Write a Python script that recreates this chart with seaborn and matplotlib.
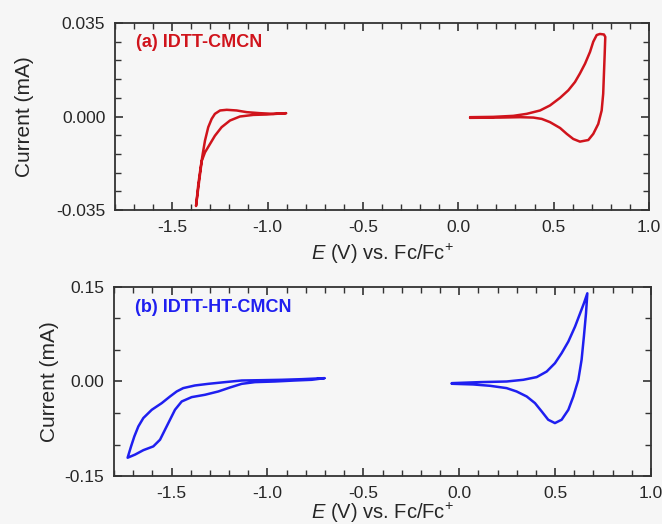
import matplotlib
matplotlib.use("Agg")
import matplotlib.pyplot as plt
from matplotlib.ticker import MultipleLocator, FixedLocator
import seaborn as sns
import pandas as pd

# (a) IDTT-CMCN, reduction loop
a_red_v = [-0.903, -0.970, -1.040, -1.109, -1.162, -1.214, -1.249, -1.276, -1.293, -1.311,
           -1.328, -1.340, -1.351, -1.363, -1.375, -1.363, -1.345, -1.328, -1.302, -1.276,
           -1.241, -1.197, -1.145, -1.075, -1.005, -0.903]
a_red_i = [0.00125, 0.00100, 0.00125, 0.00163, 0.00226, 0.00251, 0.00226, 0.00100, -0.00088, -0.0040,
           -0.0090, -0.0140, -0.0191, -0.0253, -0.0335, -0.0266, -0.0166, -0.0134, -0.0103, -0.0072,
           -0.0040, -0.0015, 0.0000, 0.0006, 0.00075, 0.00125]

# (a) IDTT-CMCN, oxidation loop
a_ox_v = [0.062, 0.184, 0.289, 0.359, 0.429, 0.481, 0.534, 0.577, 0.612, 0.638,
          0.665, 0.691, 0.708, 0.726, 0.743, 0.764, 0.771, 0.768, 0.764, 0.760,
          0.752, 0.734, 0.708, 0.682, 0.638, 0.603, 0.569, 0.534, 0.481, 0.438,
          0.394, 0.324, 0.219, 0.062]
a_ox_i = [-0.00025, -0.00013, 0.00025, 0.0010, 0.00226, 0.00414, 0.0070, 0.0098, 0.0129, 0.0161,
          0.0198, 0.0242, 0.0280, 0.0305, 0.0309, 0.0307, 0.0298, 0.0236, 0.0161, 0.0085,
          0.00226, -0.0028, -0.0065, -0.0088, -0.0094, -0.0084, -0.0065, -0.0043, -0.0021, -0.0009,
          -0.0004, -0.00025, -0.0004, -0.0005]

# (b) IDTT-HT-CMCN, reduction loop
b_red_v = [-0.703, -0.821, -0.926, -1.030, -1.134, -1.221, -1.308, -1.378, -1.439, -1.473,
           -1.508, -1.551, -1.603, -1.647, -1.673, -1.694, -1.711, -1.729, -1.690, -1.647,
           -1.595, -1.560, -1.534, -1.508, -1.482, -1.447, -1.395, -1.326, -1.256, -1.195,
           -1.134, -1.065, -0.961, -0.856, -0.769, -0.703]
b_red_i = [0.0053, 0.0037, 0.0027, 0.0021, 0.0016, -0.0010, -0.0037, -0.0063, -0.0105, -0.0158,
           -0.0238, -0.0343, -0.0449, -0.0580, -0.0713, -0.0872, -0.1030, -0.1210, -0.1160, -0.1090,
           -0.1030, -0.0924, -0.0765, -0.0607, -0.0449, -0.0317, -0.0248, -0.0211, -0.0158, -0.0095,
           -0.0037, -0.0010, 0.0000, 0.0016, 0.0027, 0.0053]

# (b) IDTT-HT-CMCN, oxidation loop
b_ox_v = [-0.039, 0.108, 0.247, 0.334, 0.404, 0.456, 0.499, 0.534, 0.569, 0.604,
          0.630, 0.650, 0.668, 0.661, 0.650, 0.638, 0.621, 0.595, 0.569, 0.534,
          0.499, 0.464, 0.430, 0.395, 0.352, 0.299, 0.247, 0.160, 0.073, -0.039]
b_ox_i = [-0.0026, -0.0010, 0.0000, 0.0027, 0.0070, 0.0158, 0.0290, 0.0450, 0.0634, 0.0872,
          0.1080, 0.1240, 0.1400, 0.1080, 0.0713, 0.0344, 0.0027, -0.0238, -0.0449, -0.0607,
          -0.0660, -0.0607, -0.0475, -0.0343, -0.0238, -0.0158, -0.0105, -0.0068, -0.0047, -0.0036]

x_ticks = [-1.5, -1.0, -0.5, 0.0, 0.5, 1.0]
x_tick_labels = ["-1.5", "-1.0", "-0.5", "0.0", "0.5", "1.0"]
a_y_ticks = [-0.035, 0.0, 0.035]
a_y_tick_labels = ["-0.035", "0.000", "0.035"]
b_y_ticks = [-0.15, 0.0, 0.15]
b_y_tick_labels = ["-0.15", "0.00", "0.15"]

sns.set_style("ticks")
plt.rcParams["font.family"] = ["Liberation Sans", "DejaVu Sans"]
plt.rcParams["mathtext.fontset"] = "custom"
plt.rcParams["mathtext.it"] = "Liberation Sans:italic"
plt.rcParams["mathtext.rm"] = "Liberation Sans"

red = "#d0141c"
blue = "#1f1ff0"

fig = plt.figure(figsize=(6.62, 5.24), dpi=100, facecolor="#f6f6f6")
ax1 = fig.add_axes([0.1737, 0.5992, 0.8066, 0.3569])
ax2 = fig.add_axes([0.1722, 0.0916, 0.8112, 0.3607])


def draw(ax, v, i, color):
    df = pd.DataFrame({"v": v, "i": i})
    sns.lineplot(data=df, x="v", y="i", sort=False, estimator=None, ax=ax,
                 color=color, linewidth=1.8)


draw(ax1, a_red_v, a_red_i, red)
draw(ax1, a_ox_v, a_ox_i, red)
draw(ax2, b_red_v, b_red_i, blue)
draw(ax2, b_ox_v, b_ox_i, blue)

# axis, y ticks, labels, minor step, panel label, colour, ylabel pad, xlabel pad
setups = [
    (ax1, a_y_ticks, a_y_tick_labels, 0.007, "(a) IDTT-CMCN", red, 16, 5),
    (ax2, b_y_ticks, b_y_tick_labels, 0.05, "(b) IDTT-HT-CMCN", blue, 4, 0),
]
for ax, yt, ytl, yminor, title, color, ypad, xpad in setups:
    ax.set_facecolor("#f6f6f6")
    ax.set_xlim(-1.8, 1.0)
    ax.set_ylim(yt[0], yt[-1])
    ax.xaxis.set_major_locator(FixedLocator(x_ticks))
    ax.set_xticklabels(x_tick_labels)
    ax.xaxis.set_minor_locator(MultipleLocator(0.1))
    ax.yaxis.set_major_locator(FixedLocator(yt))
    ax.set_yticklabels(ytl)
    ax.yaxis.set_minor_locator(MultipleLocator(yminor))
    ax.tick_params(which="both", direction="in", top=True, right=True,
                   labelsize=12.5, color="#333333", pad=7)
    ax.tick_params(which="major", length=6, width=1.2)
    ax.tick_params(which="minor", length=4, width=1.0)
    for s in ax.spines.values():
        s.set_linewidth(1.3)
        s.set_color("#333333")
    ax.set_xlabel(r"$E$ (V) vs. Fc/Fc$^{+}$", fontsize=14.5, labelpad=xpad)
    ax.set_ylabel("Current (mA)", fontsize=15, labelpad=ypad)
    ax.text(0.04, 0.87, title, transform=ax.transAxes, color=color,
            fontsize=13, fontweight="bold")

fig.savefig("out.png", dpi=100, facecolor=fig.get_facecolor())
